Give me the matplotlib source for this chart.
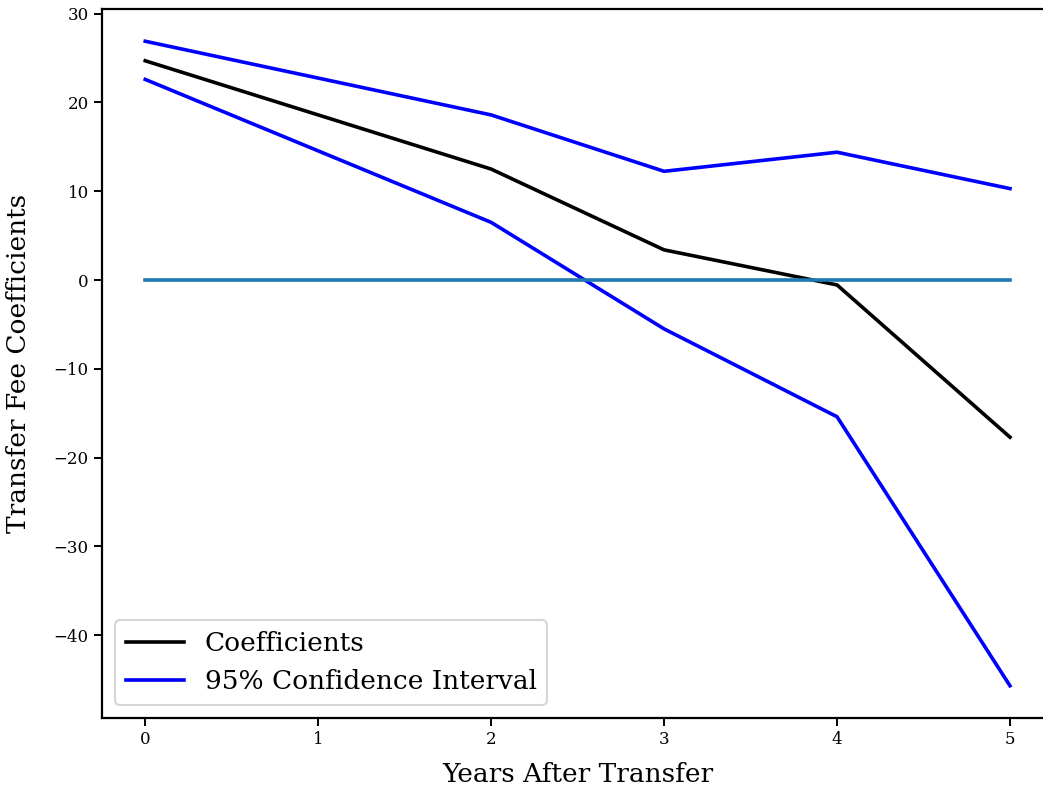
import numpy as np
import matplotlib
matplotlib.use('Agg')
import matplotlib.pyplot as plt

plt.rcParams['font.family'] = 'serif'
plt.rcParams['font.serif'] = ['DejaVu Serif']

years = [0, 2, 3, 4, 5]
coefs = [24.7, 12.5, 3.4, -0.55, -17.7]
ci_upper = [26.9, 18.6, 12.25, 14.4, 10.3]
ci_lower = [22.6, 6.5, -5.5, -15.4, -45.7]
zero_x = [0, 5]
zero_y = [0, 0]

fig = plt.figure(figsize=(10.43, 7.91), dpi=100)
ax = fig.add_axes([0.0978, 0.0923, 0.912, 0.8963])

ax.plot(years, coefs, color='black', lw=2.6, label='Coefficients')
ax.plot(years, ci_upper, color='blue', lw=2.6, label='95% Confidence Interval')
ax.plot(years, ci_lower, color='blue', lw=2.6)
ax.plot(zero_x, zero_y, color='#1f77b4', lw=2.6)
ax.set_xlim(-0.25, 5.25)

ax.set_xticks([0, 1, 2, 3, 4, 5])
ax.set_yticks([-40, -30, -20, -10, 0, 10, 20, 30])
ax.tick_params(labelsize=12, length=6, width=1.4)
for s in ax.spines.values():
    s.set_linewidth(1.6)
ax.spines['right'].set_visible(False)

ax.set_xlabel('Years After Transfer', fontsize=19, labelpad=10)
ax.set_ylabel('Transfer Fee Coefficients', fontsize=19, labelpad=16)
leg = ax.legend(loc='lower left', fontsize=19, handlelength=2.2)
leg.get_frame().set_linewidth(1.5)

fig.savefig('out.png', dpi=100)
